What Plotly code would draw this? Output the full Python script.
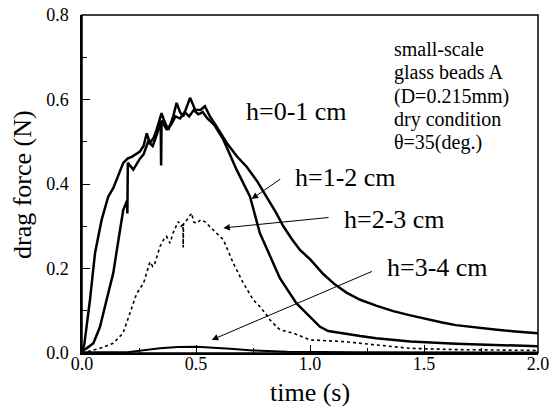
import plotly.graph_objects as go

# ---- data ----
t_h01 = [0, 0.01, 0.035, 0.057, 0.086, 0.115, 0.137, 0.16, 0.181, 0.2, 0.22, 0.254, 0.27, 0.284, 0.298,
         0.315, 0.327, 0.349, 0.36, 0.379, 0.40, 0.415, 0.43, 0.444, 0.46, 0.474, 0.496, 0.52, 0.539,
         0.561, 0.59, 0.635, 0.68, 0.722, 0.77, 0.81, 0.851, 0.883, 0.92, 0.956, 1.0, 1.058, 1.11, 1.16,
         1.22, 1.29, 1.365, 1.44, 1.51, 1.58, 1.64, 1.73, 1.82, 1.9, 2.0]
f_h01 = [0, 0.02, 0.126, 0.236, 0.315, 0.37, 0.39, 0.42, 0.45, 0.46, 0.465, 0.477, 0.49, 0.52, 0.497,
         0.51, 0.528, 0.568, 0.55, 0.528, 0.56, 0.592, 0.57, 0.56, 0.585, 0.604, 0.576, 0.575, 0.584,
         0.56, 0.536, 0.497, 0.465, 0.441, 0.405, 0.37, 0.332, 0.30, 0.27, 0.244, 0.222, 0.187, 0.162, 0.143,
         0.126, 0.112, 0.099, 0.089, 0.08, 0.072, 0.066, 0.06, 0.055, 0.051, 0.047]

t_h12 = [0, 0.02, 0.05, 0.079, 0.108, 0.137, 0.16, 0.181, 0.197, 0.199, 0.201, 0.225, 0.254, 0.27, 0.29,
         0.31, 0.33, 0.345, 0.347, 0.349, 0.37, 0.39, 0.41, 0.43, 0.45, 0.47, 0.49, 0.51, 0.53, 0.55,
         0.58, 0.62, 0.678, 0.737, 0.78, 0.825, 0.868, 0.94, 1.0, 1.044, 1.08, 1.146, 1.22, 1.29, 1.44,
         1.64, 1.8, 2.0]
f_h12 = [0.005, 0.011, 0.023, 0.062, 0.126, 0.189, 0.268, 0.339, 0.36, 0.33, 0.45, 0.434, 0.46, 0.47, 0.50,
         0.49, 0.52, 0.55, 0.444, 0.55, 0.53, 0.54, 0.56, 0.555, 0.57, 0.56, 0.575, 0.565, 0.57, 0.555,
         0.54, 0.505, 0.434, 0.37, 0.284, 0.228, 0.177, 0.118, 0.086, 0.062, 0.052, 0.046, 0.04, 0.035, 0.027,
         0.022, 0.019, 0.016]

t_h23 = [0, 0.04, 0.079, 0.137, 0.18, 0.21, 0.24, 0.27, 0.298, 0.31, 0.32, 0.342, 0.36, 0.371, 0.386,
         0.40, 0.422, 0.435, 0.443, 0.444, 0.445, 0.46, 0.481, 0.49, 0.503, 0.52, 0.539, 0.576, 0.62,
         0.664, 0.708, 0.751, 0.78, 0.81, 0.825, 0.854, 0.868, 0.927, 1.0, 1.146, 1.29, 1.44, 1.64, 1.8, 2.0]
f_h23 = [0, 0.006, 0.011, 0.023, 0.047, 0.094, 0.141, 0.165, 0.216, 0.205, 0.213, 0.252, 0.27, 0.276, 0.26,
         0.285, 0.311, 0.30, 0.305, 0.25, 0.305, 0.315, 0.331, 0.31, 0.307, 0.315, 0.311, 0.291, 0.268,
         0.212, 0.165, 0.126, 0.11, 0.09, 0.078, 0.062, 0.055, 0.047, 0.031, 0.027, 0.019, 0.011, 0.008, 0.007, 0.006]

t_h34 = [0, 0.2, 0.342, 0.42, 0.503, 0.58, 0.65, 0.75, 0.9, 1.2, 2.0]
f_h34 = [0.002, 0.002, 0.011, 0.014, 0.015, 0.013, 0.01, 0.006, 0.003, 0.002, 0.001]

labels = ["h=0-1 cm", "h=1-2 cm", "h=2-3 cm", "h=3-4 cm"]
info_lines = ["small-scale", "glass beads A", "(D=0.215mm)", "dry condition", "θ=35(deg.)"]
x_ticks = [0.0, 0.5, 1.0, 1.5, 2.0]
y_ticks = [0.0, 0.2, 0.4, 0.6, 0.8]

FONT = "Liberation Serif, Times New Roman, serif"

fig = go.Figure()
fig.add_trace(go.Scatter(x=t_h01, y=f_h01, mode="lines", line=dict(color="black", width=2.5)))
fig.add_trace(go.Scatter(x=t_h12, y=f_h12, mode="lines", line=dict(color="black", width=2.5)))
fig.add_trace(go.Scatter(x=t_h23, y=f_h23, mode="lines", line=dict(color="black", width=1.6, dash="dot")))
fig.add_trace(go.Scatter(x=t_h34, y=f_h34, mode="lines", line=dict(color="black", width=2)))

# label texts
label_pos = [(0.939, 0.572), (1.154, 0.415), (1.371, 0.315), (1.561, 0.2016)]
for txt, (lx, ly) in zip(labels, label_pos):
    fig.add_annotation(x=lx, y=ly, text=txt, showarrow=False, xanchor="center", yanchor="middle",
                       font=dict(family=FONT, size=26, color="black"))

# arrows (tail -> head)
arrows = [((0.876, 0.414), (0.744, 0.3646)),
          ((1.088, 0.321), (0.620, 0.296)),
          ((1.278, 0.1945), (0.569, 0.031))]
for (tx, ty), (hx, hy) in arrows:
    fig.add_annotation(x=hx, y=hy, ax=tx, ay=ty, axref="x", ayref="y", xref="x", yref="y",
                       text="", showarrow=True, arrowhead=2, arrowsize=1.3, arrowwidth=1,
                       arrowcolor="black")

# info block
info_y = [0.7187, 0.663, 0.607, 0.553, 0.498]
for txt, iy in zip(info_lines, info_y):
    fig.add_annotation(x=1.36, y=iy, text=txt, showarrow=False, xanchor="left", yanchor="middle",
                       font=dict(family=FONT, size=20, color="black"))

# axis titles
fig.add_annotation(x=0.5, y=-0.1154, xref="paper", yref="paper", text="time (s)", showarrow=False,
                   xanchor="center", yanchor="middle", font=dict(family=FONT, size=26, color="black"))
fig.add_annotation(x=-0.1316, y=0.5, xref="paper", yref="paper", text="drag force (N)", showarrow=False,
                   textangle=-90, xanchor="center", yanchor="middle",
                   font=dict(family=FONT, size=26, color="black"))

# frame
fig.add_shape(type="rect", xref="paper", yref="paper", x0=0, y0=0, x1=1, y1=1,
              line=dict(color="black", width=1.5), layer="above")

fig.update_layout(
    width=556, height=414,
    margin=dict(l=82, r=18, t=15, b=61, autoexpand=False),
    paper_bgcolor="white", plot_bgcolor="white",
    showlegend=False,
    font=dict(family=FONT, color="black"),
)

common_x = dict(range=[0, 2], tickvals=x_ticks, ticks="inside", ticklen=8, tickwidth=1, tickcolor="black",
                minor=dict(dtick=0.25, ticks="inside", ticklen=5, tickcolor="black"),
                showline=True, linecolor="black", linewidth=1.5,
                showgrid=False, zeroline=False, automargin=False)
common_y = dict(range=[0, 0.8], tickvals=y_ticks, ticks="inside", ticklen=8, tickwidth=1, tickcolor="black",
                minor=dict(dtick=0.1, ticks="inside", ticklen=5, tickcolor="black"),
                showline=True, linecolor="black", linewidth=1.5,
                showgrid=False, zeroline=False, automargin=False)

fig.update_layout(
    xaxis=dict(**common_x, ticktext=[f"{v:.1f}" for v in x_ticks], ticklabelstandoff=-6,
               ticklabeloverflow="allow", tickfont=dict(family=FONT, size=18, color="black")),
    yaxis=dict(**common_y, ticktext=[f"{v:.1f}" for v in y_ticks], ticklabelstandoff=8,
               ticklabeloverflow="allow", tickfont=dict(family=FONT, size=18, color="black")),
    xaxis2=dict(**common_x, overlaying="x", anchor="y", side="top", showticklabels=False),
    yaxis2=dict(**common_y, overlaying="y", anchor="x", side="right", showticklabels=False),
)

fig.write_html("out.html",
               config={"displayModeBar": False},
               post_script="document.body.style.margin='0px';document.body.style.overflow='hidden';")
